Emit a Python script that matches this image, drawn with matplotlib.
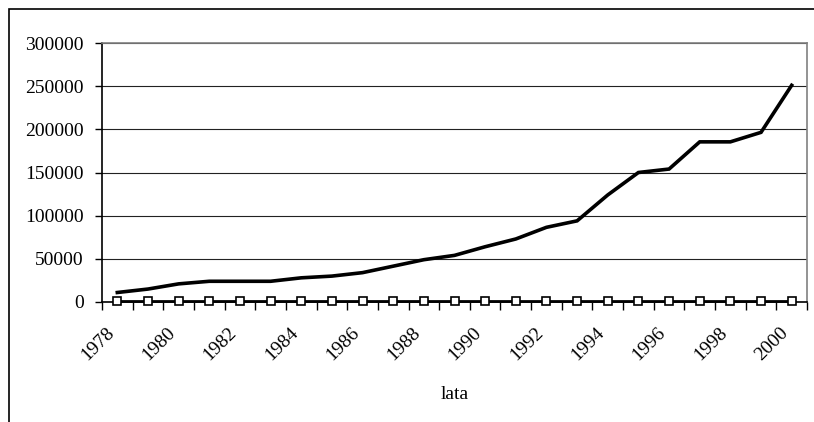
import numpy as np
import matplotlib
matplotlib.use('Agg')
import matplotlib.pyplot as plt
import matplotlib.transforms as mtransforms
from matplotlib.patches import Rectangle

plt.rcParams['font.family'] = ['Liberation Serif', 'DejaVu Serif']

years = list(range(1978, 2001))
main_series = [11000, 15000, 21000, 24000, 24000, 24000, 28000, 30000, 34000,
               41500, 49000, 54000, 64000, 73000, 86500, 94000, 124000, 150000,
               154000, 185500, 185500, 196500, 251000]
small_series = [1500] * 23
y_ticks = [0, 50000, 100000, 150000, 200000, 250000, 300000]

def main():
	fig = plt.figure(figsize=(8.14, 4.22), dpi=100)
	ax = fig.add_axes([102/814, 1 - 302/422, 705/814, 259/422])

	x = np.arange(len(years)) + 0.5
	ax.plot(x, main_series, color='black', lw=2.6, solid_joinstyle='miter', zorder=4)
	ax.plot(x, small_series, color='black', lw=2.0, marker='s', ms=5.5,
		mfc='white', mec='black', mew=1.2, zorder=4, clip_on=False)

	ax.set_xlim(0, len(years))
	ax.set_ylim(0, 300000)
	ax.set_yticks(y_ticks)
	ax.set_yticklabels([str(v) for v in y_ticks])
	ax.yaxis.grid(True, color='#222222', lw=0.8)
	ax.set_axisbelow(True)

	# category ticks on boundaries, labels every second year at centres
	ax.set_xticks(np.arange(len(years) + 1))
	ax.set_xticklabels([])
	ax.set_xticks(x[::2], minor=True)
	ax.set_xticklabels([str(y) for y in years[::2]], minor=True, rotation=45,
		ha='right', va='center', rotation_mode='anchor')
	ax.tick_params(axis='x', which='minor', length=0, pad=20, labelsize=14)
	ax.tick_params(axis='x', which='major', length=6, width=1, direction='out')
	ax.tick_params(axis='y', length=5, width=1, direction='out', labelsize=14, pad=8)
	shift = mtransforms.ScaledTranslation(-6/100, 0, fig.dpi_scale_trans)
	for lbl in ax.get_xticklabels(minor=True):
		lbl.set_transform(lbl.get_transform() + shift)

	for s in ['top', 'right']:
		ax.spines[s].set_color('#808080')
		ax.spines[s].set_linewidth(1.2)
	ax.spines['left'].set_linewidth(1.2)
	ax.spines['bottom'].set_linewidth(1.2)

	ax.set_xlabel('lata', fontsize=14, labelpad=16)

	# outer chart frame
	fig.patches.append(Rectangle((9/814, -0.2), 2, 1.2 - 9/422, transform=fig.transFigure,
		fill=False, ec='black', lw=1.2))

	fig.savefig('out.png', dpi=100)

if __name__ == "__main__":
	main()
